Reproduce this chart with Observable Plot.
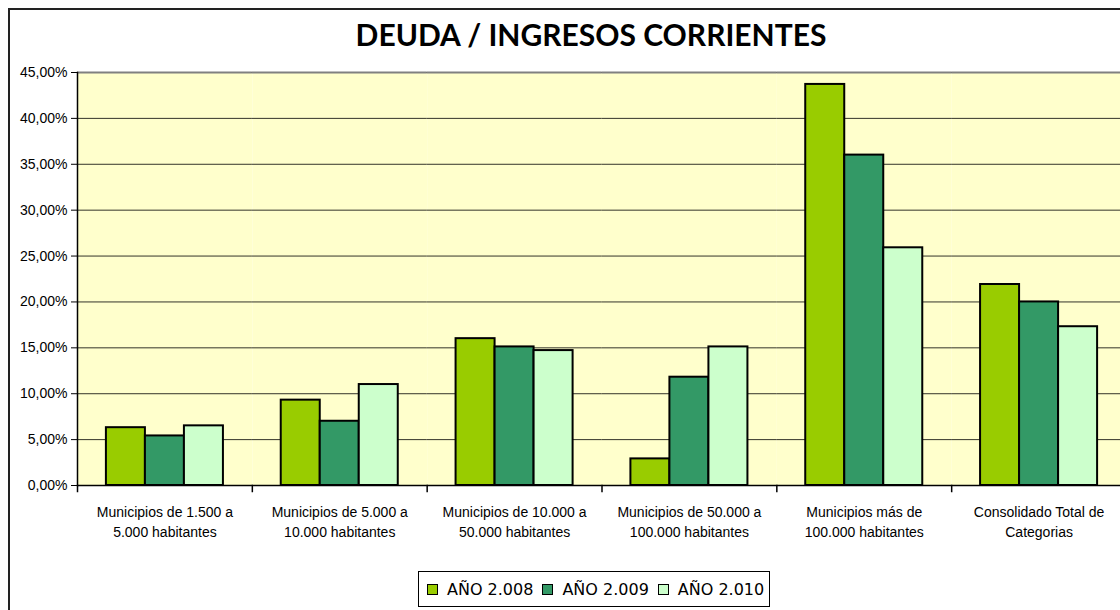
<!DOCTYPE html>
<html><head><meta charset="utf-8">
<script src="https://cdn.jsdelivr.net/npm/d3@7"></script>
<script src="https://cdn.jsdelivr.net/npm/@observablehq/plot@0.6"></script>
<style>
html,body{margin:0;padding:0;width:1120px;height:610px;overflow:hidden;background:#fff;}
#frame{position:absolute;left:8px;top:8px;width:1300px;height:800px;border-left:2px solid #222;border-top:2px solid #222;box-sizing:border-box;}
#title{position:absolute;left:0;width:1182px;top:16px;text-align:center;font-family:Lato,"Open Sans",sans-serif;font-weight:bold;font-size:30px;line-height:36px;color:#000;}
#chart{position:absolute;left:0;top:0;}
#legend{position:absolute;left:418px;top:571px;height:36px;border:1px solid #000;box-sizing:border-box;display:flex;align-items:center;padding:0 5px 0 8px;font-family:"DejaVu Sans",sans-serif;font-size:16px;color:#000;background:#fff;}
.sw{width:9px;height:9px;border:1px solid #000;margin-right:9px;}
.it{display:flex;align-items:center;margin-right:9px;}
.it:last-child{margin-right:0;}
</style></head>
<body>
<div id="frame"></div>
<div id="chart"></div>
<div id="title">DEUDA / INGRESOS CORRIENTES</div>
<div id="legend"></div>
<script>
const categories = [
  "Municipios de 1.500 a\n5.000 habitantes",
  "Municipios de 5.000 a\n10.000 habitantes",
  "Municipios de 10.000 a\n50.000 habitantes",
  "Municipios de 50.000 a\n100.000 habitantes",
  "Municipios más de\n100.000 habitantes",
  "Consolidado Total de\nCategorias"
];
const series = ["AÑO 2.008", "AÑO 2.009", "AÑO 2.010"];
const v2008 = [0.063, 0.093, 0.160, 0.029, 0.437, 0.219];
const v2009 = [0.054, 0.070, 0.151, 0.118, 0.360, 0.200];
const v2010 = [0.065, 0.110, 0.147, 0.151, 0.259, 0.173];
const colors = ["#99CC00", "#339966", "#CCFFCC"];
const yTicks = [0, 0.05, 0.10, 0.15, 0.20, 0.25, 0.30, 0.35, 0.40, 0.45];

const seriesValues = [v2008, v2009, v2010];
const data = [];
categories.forEach((c, i) => series.forEach((s, j) => data.push({cat: c, series: s, value: seriesValues[j][i]})));

const fmt = d => (d * 100).toFixed(2).replace(".", ",") + "%";

const chart = Plot.plot({
  width: 1130, height: 560,
  marginLeft: 77, marginRight: 4, marginTop: 72, marginBottom: 75,
  style: {fontFamily: "'Liberation Sans', Arial, sans-serif", fontSize: "14px", color: "#000", background: "transparent", overflow: "visible", maxWidth: "none"},
  fx: {domain: categories, padding: 0, round: false, label: null, axis: null},
  x: {domain: series, paddingInner: 0, paddingOuter: 0.741, round: false, axis: null},
  y: {domain: [0, 0.45], axis: null, label: null},
  color: {domain: series, range: colors},
  marks: [
    Plot.frame({fill: "#FFFFCC", stroke: null}),
    Plot.gridY(yTicks, {stroke: "#000", strokeOpacity: 0.8, strokeWidth: 1}),
    Plot.ruleY([0.45], {stroke: "#808080", strokeWidth: 2}),
    Plot.barY(data, {fx: "cat", x: "series", y: "value", fill: "series", stroke: "#000", strokeWidth: 2}),
    Plot.ruleY([0], {stroke: "#000", strokeWidth: 1.5}),
    Plot.frame({anchor: "left", facetAnchor: "left", stroke: "#000", strokeWidth: 1.5}),
    Plot.frame({anchor: "left", stroke: "#000", strokeWidth: 1.5, insetTop: 413, insetBottom: -6}),
    Plot.axisY(yTicks, {tickFormat: fmt, tickSize: 6, tickPadding: 4, fontSize: 14, stroke: "#000", label: null, facetAnchor: "left"}),
    Plot.axisFx({anchor: "bottom", tickSize: 0, tickPadding: 17, lineHeight: 1.43, fontSize: 14, label: null})
  ]
});
document.getElementById("chart").appendChild(chart);

const legend = document.getElementById("legend");
series.forEach((s, i) => {
  const it = document.createElement("div");
  it.className = "it";
  const sw = document.createElement("div");
  sw.className = "sw";
  sw.style.background = colors[i];
  const t = document.createElement("span");
  t.textContent = s;
  it.appendChild(sw); it.appendChild(t);
  legend.appendChild(it);
});
</script>
</body></html>
